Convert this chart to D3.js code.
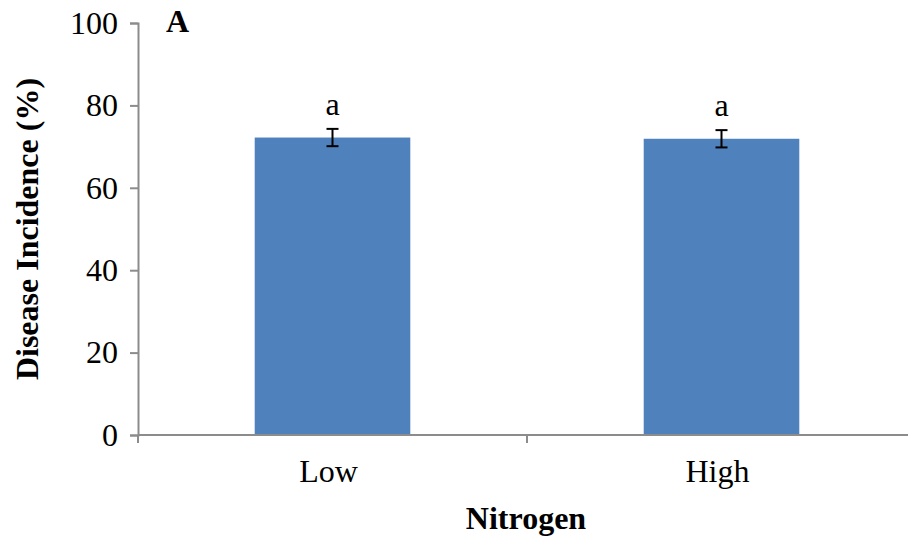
<!DOCTYPE html>
<html>
<head>
<meta charset="utf-8">
<script src="https://cdn.jsdelivr.net/npm/d3@7.9.0/dist/d3.min.js"></script>
<style>
  body { margin: 0; background: #fff; }
  text { font-family: "Liberation Serif", "Times New Roman", serif; fill: #000; }
</style>
</head>
<body>
<svg id="chart" width="908" height="539"></svg>
<script>
const categories = ['Low', 'High'];
const values = [72.2, 71.9];
const errors = [2.1, 2.1];
const letters = ['a', 'a'];
const yTicks = [0, 20, 40, 60, 80, 100];

const svg = d3.select('#chart');
const plotLeft = 138, plotRight = 916, plotTop = 23, plotBottom = 435;
const fs = 32;

const x = d3.scaleBand().domain(categories).range([plotLeft, plotRight]).paddingInner(0.6).paddingOuter(0.3);
const y = d3.scaleLinear().domain([0, 100]).range([plotBottom, plotTop]);
const axisColor = '#8c8c8c';

// bars
svg.selectAll('rect.bar')
  .data(values)
  .join('rect')
  .attr('class', 'bar')
  .attr('x', (d, i) => x(categories[i]))
  .attr('width', x.bandwidth())
  .attr('y', d => y(d))
  .attr('height', d => y(0) - y(d))
  .attr('fill', '#4f81bd');

// error bars
const eb = svg.append('g').attr('stroke', '#000').attr('stroke-width', 2);
values.forEach((v, i) => {
  let cx = x(categories[i]) + x.bandwidth() / 2;
  eb.append('line').attr('x1', cx).attr('x2', cx).attr('y1', y(v + errors[i])).attr('y2', y(v - errors[i]));
  eb.append('line').attr('x1', cx - 6).attr('x2', cx + 6).attr('y1', y(v + errors[i])).attr('y2', y(v + errors[i]));
  eb.append('line').attr('x1', cx - 6).attr('x2', cx + 6).attr('y1', y(v - errors[i])).attr('y2', y(v - errors[i]));
  svg.append('text')
    .attr('x', cx)
    .attr('y', y(v + errors[i]) - 14)
    .attr('text-anchor', 'middle')
    .attr('font-size', fs)
    .text(letters[i]);
});

// y axis
const yAxis = svg.append('g')
  .attr('transform', `translate(${plotLeft},0)`)
  .call(d3.axisLeft(y).tickValues(yTicks).tickSize(8).tickPadding(12));
yAxis.select('.domain').attr('stroke', axisColor).attr('stroke-width', 2);
yAxis.selectAll('.tick line').attr('stroke', axisColor).attr('stroke-width', 2);
yAxis.selectAll('.tick text').attr('font-size', fs).attr('font-family', 'Liberation Serif').attr('fill', '#000');

// x axis
const xAxis = svg.append('g').attr('transform', `translate(0,${plotBottom})`);
xAxis.append('line').attr('x1', plotLeft).attr('x2', plotRight).attr('y1', 0).attr('y2', 0)
  .attr('stroke', axisColor).attr('stroke-width', 2);
[plotLeft, (plotLeft + plotRight) / 2, plotRight].forEach(t => {
  xAxis.append('line').attr('x1', t).attr('x2', t).attr('y1', 0).attr('y2', 8)
    .attr('stroke', axisColor).attr('stroke-width', 2);
});
categories.forEach(c => {
  xAxis.append('text')
    .attr('x', x(c) + x.bandwidth() / 2 - 4)
    .attr('y', 47)
    .attr('text-anchor', 'middle')
    .attr('font-size', fs)
    .text(c);
});

// titles
svg.append('text')
  .attr('x', (plotLeft + plotRight) / 2 - 1)
  .attr('y', 529)
  .attr('text-anchor', 'middle')
  .attr('font-size', fs)
  .attr('font-weight', 'bold')
  .text('Nitrogen');

svg.append('text')
  .attr('transform', 'translate(38,229) rotate(-90)')
  .attr('text-anchor', 'middle')
  .attr('font-size', fs)
  .attr('font-weight', 'bold')
  .text('Disease Incidence (%)');

svg.append('text')
  .attr('x', 166)
  .attr('y', 32)
  .attr('font-size', fs)
  .attr('font-weight', 'bold')
  .text('A');
</script>
</body>
</html>
